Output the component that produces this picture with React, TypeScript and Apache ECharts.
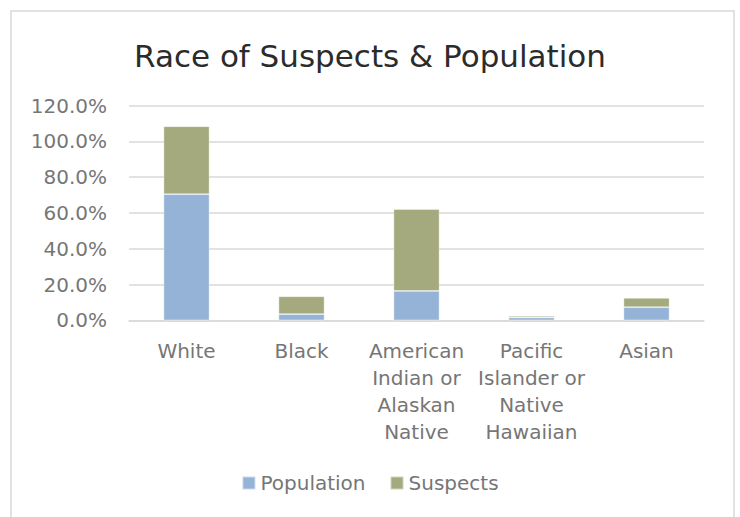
import React, { useEffect, useRef } from "react";
import * as echarts from "echarts";

const TITLE = "Race of Suspects & Population";
const CATEGORIES = [
  "White",
  "Black",
  "American\nIndian or\nAlaskan\nNative",
  "Pacific\nIslander or\nNative\nHawaiian",
  "Asian",
];
const SERIES_NAMES = ["Population", "Suspects"];
const POPULATION = [70.5, 3.5, 16.4, 1.6, 7.3];
const SUSPECTS = [38.0, 9.9, 45.8, 0.9, 5.2];
const Y_MIN = 0;
const Y_MAX = 120;
const Y_STEP = 20;

const FONT = "DejaVu Sans";
const LABEL_COLOR = "#767676";
const COLORS = ["#95B3D7", "#A4A97E"];

export default function App() {
  const ref = useRef<HTMLDivElement>(null);

  useEffect(() => {
    if (!ref.current) return;
    const chart = echarts.init(ref.current, undefined, { renderer: "svg" });
    const values = [POPULATION, SUSPECTS];
    chart.setOption({
      animation: false,
      backgroundColor: "#ffffff",
      title: {
        text: TITLE,
        left: "center",
        top: 35,
        textStyle: {
          fontFamily: FONT,
          fontSize: 31,
          fontWeight: "normal",
          color: "#2b2b2b",
        },
      },
      graphic: [
        {
          type: "rect",
          shape: { x: 11, y: 11, width: 723, height: 530 },
          style: { fill: "none", stroke: "#D9D9D9", lineWidth: 1.5 },
          silent: true,
        },
      ],
      legend: {
        data: SERIES_NAMES,
        bottom: 19,
        left: "center",
        itemWidth: 13,
        itemHeight: 13,
        itemGap: 24,
        icon: "rect",
        textStyle: { fontFamily: FONT, fontSize: 20, color: LABEL_COLOR },
      },
      grid: { left: 129, right: 36, top: 105.7, bottom: 196.7, containLabel: false },
      xAxis: {
        type: "category",
        data: CATEGORIES,
        axisLine: { lineStyle: { color: "#D9D9D9", width: 1.5 } },
        axisTick: { show: false },
        axisLabel: {
          interval: 0,
          fontFamily: FONT,
          fontSize: 20,
          lineHeight: 27,
          color: LABEL_COLOR,
          margin: 17,
        },
      },
      yAxis: {
        type: "value",
        min: Y_MIN,
        max: Y_MAX,
        interval: Y_STEP,
        axisLine: { show: false },
        axisTick: { show: false },
        splitLine: { lineStyle: { color: "#D9D9D9", width: 1.5 } },
        axisLabel: {
          fontFamily: FONT,
          fontSize: 20,
          color: LABEL_COLOR,
          margin: 22,
          formatter: (v: number) => v.toFixed(1) + "%",
        },
      },
      series: SERIES_NAMES.map((name, i) => ({
        name,
        type: "bar",
        stack: "total",
        data: values[i],
        barWidth: 46,
        itemStyle: {
          color: COLORS[i],
          borderColor: "rgba(255,255,255,0.5)",
          borderWidth: 0.75,
        },
      })),
    });
    return () => chart.dispose();
  }, []);

  return (
    <div
      ref={ref}
      style={{ position: "absolute", left: 0, top: 0, width: 740, height: 517 }}
    />
  );
}
